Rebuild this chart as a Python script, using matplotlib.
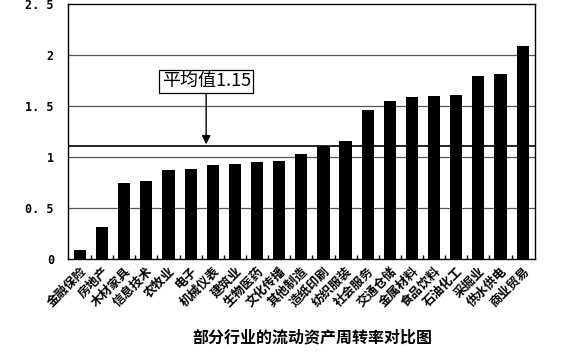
import matplotlib
matplotlib.use('Agg')
import matplotlib.pyplot as plt

plt.rcParams['font.family'] = ['Noto Sans CJK SC', 'DejaVu Sans']

# industries, sorted by turnover rate
industries = ['金融保险', '房地产', '木材家具', '信息技术', '农牧业', '电子', '机械仪表',
              '建筑业', '生物医药', '文化传播', '其他制造', '造纸印刷', '纺织服装',
              '社会服务', '交通仓储', '金属材料', '食品饮料', '石油化工', '采掘业',
              '供水供电', '商业贸易']
rates = [0.09, 0.31, 0.75, 0.76, 0.87, 0.88, 0.92, 0.93, 0.95, 0.96, 1.03, 1.11,
         1.16, 1.46, 1.55, 1.59, 1.60, 1.61, 1.79, 1.81, 2.09]
avg_line = 1.11
avg_label = '平均值1.15'
y_ticks = [0, 0.5, 1, 1.5, 2, 2.5]
y_ticklabels = ['0', '0. 5', '1', '1. 5', '2', '2. 5']
title = '部分行业的流动资产周转率对比图'

fig = plt.figure(figsize=(5.8, 3.52), dpi=100)
ax = fig.add_axes([0.117, 0.264, 0.805, 0.725])

x = list(range(len(industries)))
ax.bar(x, rates, width=0.55, color='black', zorder=3)

# horizontal grid lines
for t in y_ticks[1:-1]:
    ax.axhline(t, color='#555555', lw=0.9, zorder=1)
# average line
ax.axhline(avg_line, color='black', lw=1.2, zorder=2)

ax.set_xlim(-0.55, len(industries) - 0.45)
ax.set_ylim(0, 2.5)
ax.set_yticks(y_ticks)
ax.set_yticklabels(y_ticklabels, fontsize=8.5, fontweight='bold', family='DejaVu Sans Mono')
ax.tick_params(axis='y', length=0, pad=10)
ax.set_xticks(x)
ax.set_xticklabels(industries, rotation=45, ha='right', rotation_mode='anchor',
                   fontsize=9, fontweight='bold')
ax.tick_params(axis='x', length=0, pad=4)
# small inward marks between bars
ax.set_xticks([i + 0.5 for i in x[:-1]], minor=True)
ax.tick_params(axis='x', which='minor', direction='in', length=3, width=1)
for s in ax.spines.values():
    s.set_linewidth(1.0)

# annotation box with arrow
ax.annotate(avg_label, xy=(5.7, avg_line), xytext=(5.7, 1.74),
            ha='center', va='center', fontsize=13,
            family=['Noto Sans CJK SC', 'DejaVu Sans'],
            bbox=dict(boxstyle='square,pad=0.12', fc='white', ec='black', lw=0.9),
            arrowprops=dict(arrowstyle='-|>', color='black', lw=1.0, shrinkA=0, shrinkB=1))

fig.text(0.538, 0.04, title, ha='center', va='center', fontsize=11.5, fontweight='bold')

fig.savefig('out.png', dpi=100)
